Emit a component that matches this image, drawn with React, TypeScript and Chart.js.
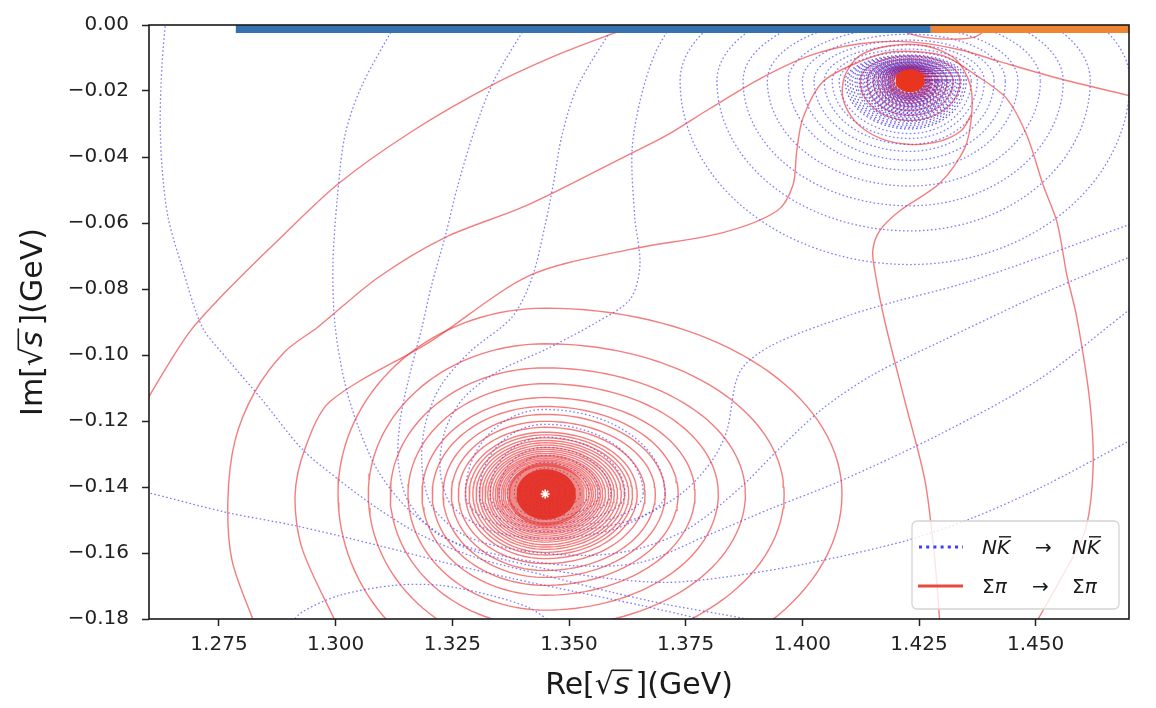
import React, { useEffect, useRef } from "react";
import { Chart, registerables } from "chart.js";

Chart.register(...registerables);

const FONT = "'DejaVu Sans', 'Liberation Sans', sans-serif";

// ---- axes ----
const xTicks = [1.275, 1.3, 1.325, 1.35, 1.375, 1.4, 1.425, 1.45];
const yTicks = [0, -0.02, -0.04, -0.06, -0.08, -0.1, -0.12, -0.14, -0.16, -0.18];
const xMin = 1.26;
const xMax = 1.47;
const yMin = -0.18;
const yMax = 0;

// ---- thresholds (bars along Im = 0) ----
const sigmaPiBar = [1.2786, 1.4275];
const nKbarBar = [1.4275, 1.48];
const barLevel = -0.0012;

// ---- poles ----
const sigmaPiPole = [1.3449, -0.1421];
const nKbarPole = [1.4231, -0.0169];

// ---- Sigma pi contour rings around the lower pole (GeV): left, right, top, bottom extents ----
const sigmaRingLeft = [0.0444, 0.0379, 0.0332, 0.0294, 0.0264, 0.0242, 0.0219, 0.0201, 0.0186, 0.0171, 0.0163, 0.0155, 0.0148, 0.0141, 0.0135, 0.0129, 0.0123, 0.0118, 0.0112, 0.0107, 0.0103, 0.0099, 0.0094, 0.009, 0.0086, 0.0081, 0.0077];
const sigmaRingRight = [0.0636, 0.0512, 0.0429, 0.0371, 0.0321, 0.0285, 0.0257, 0.0236, 0.0214, 0.0197, 0.0187, 0.0179, 0.017, 0.0163, 0.0155, 0.0148, 0.0142, 0.0136, 0.0129, 0.0123, 0.0118, 0.0113, 0.0108, 0.0103, 0.0099, 0.0094, 0.0089];
const sigmaRingTop = [0.0563, 0.0455, 0.0382, 0.0334, 0.0292, 0.0265, 0.0241, 0.022, 0.0202, 0.0187, 0.0179, 0.017, 0.0162, 0.0155, 0.0148, 0.0141, 0.0135, 0.0129, 0.0123, 0.0117, 0.0113, 0.0108, 0.0103, 0.0099, 0.0094, 0.0089, 0.0085];
const sigmaRingBottom = [0.0593, 0.0479, 0.0403, 0.0352, 0.0307, 0.0277, 0.0253, 0.0232, 0.0211, 0.0196, 0.0185, 0.0177, 0.0168, 0.0161, 0.0154, 0.0146, 0.014, 0.0134, 0.0128, 0.0122, 0.0117, 0.0112, 0.0107, 0.0102, 0.0098, 0.0093, 0.0088];
const sigmaCore = [0.0079, 0.0085, 0.0094, 0.0098];
const sigmaCoreInner = [0.0062, 0.0066, 0.0075, 0.0078];

// ---- Sigma pi rings around the upper pole ----
const sigmaUpperLeft = [0.0107, 0.0092, 0.0079, 0.0069, 0.006, 0.0054, 0.0047, 0.0043, 0.0039, 0.0035];
const sigmaUpperRight = [0.0107, 0.0092, 0.0079, 0.0069, 0.006, 0.0054, 0.0047, 0.0043, 0.0039, 0.0035];
const sigmaUpperTop = [0.0075, 0.0066, 0.0057, 0.0048, 0.0042, 0.0038, 0.0033, 0.003, 0.0027, 0.0026];
const sigmaUpperBottom = [0.012, 0.0105, 0.009, 0.0078, 0.0068, 0.006, 0.0054, 0.0048, 0.0044, 0.0039];
const nKbarCore = [0.0032, 0.0032, 0.0035, 0.0035];

// ---- N Kbar contour rings around the upper pole ----
const nkRingLeft = [0.0493, 0.0414, 0.0358, 0.0306, 0.0261, 0.0231, 0.0206, 0.0184, 0.0167, 0.0152, 0.0139, 0.0134, 0.0129, 0.0124, 0.0118, 0.0114, 0.0109, 0.0105, 0.0101, 0.0098, 0.0094, 0.0091, 0.0088, 0.0085, 0.0081, 0.0079, 0.0076, 0.0074, 0.0071, 0.0069, 0.0066, 0.0064, 0.0062, 0.006, 0.0058, 0.0056, 0.0054, 0.0052, 0.005, 0.0049, 0.0047, 0.0046, 0.0044, 0.0043, 0.0041, 0.0039, 0.0037, 0.0036, 0.0034];
const nkRingRight = [0.0471, 0.0386, 0.0328, 0.0279, 0.0231, 0.0204, 0.018, 0.0159, 0.0144, 0.0131, 0.012, 0.0115, 0.0109, 0.0105, 0.0101, 0.0097, 0.0093, 0.009, 0.0086, 0.0083, 0.008, 0.0078, 0.0075, 0.0073, 0.007, 0.0067, 0.0064, 0.0062, 0.006, 0.0059, 0.0057, 0.0056, 0.0054, 0.0052, 0.0049, 0.0048, 0.0046, 0.0045, 0.0043, 0.0042, 0.0041, 0.0039, 0.0037, 0.0036, 0.0034, 0.0033, 0.0032, 0.0031, 0.0029];
const nkRingTop = [0.0334, 0.0274, 0.0229, 0.0193, 0.0163, 0.0141, 0.0123, 0.0108, 0.0096, 0.0087, 0.0078, 0.0075, 0.0072, 0.0069, 0.0066, 0.0064, 0.0062, 0.006, 0.0057, 0.0056, 0.0054, 0.0053, 0.0051, 0.005, 0.0048, 0.0047, 0.0045, 0.0045, 0.0044, 0.0043, 0.0042, 0.0042, 0.0041, 0.004, 0.0039, 0.0039, 0.0038, 0.0037, 0.0036, 0.0036, 0.0035, 0.0034, 0.0033, 0.0033, 0.0032, 0.0031, 0.003, 0.003, 0.0029];
const nkRingBottom = [0.0557, 0.0455, 0.0379, 0.0319, 0.0271, 0.0241, 0.0214, 0.0193, 0.0175, 0.016, 0.0146, 0.0141, 0.0135, 0.0129, 0.0123, 0.0119, 0.0114, 0.011, 0.0105, 0.0102, 0.0099, 0.0096, 0.0092, 0.0089, 0.0086, 0.0083, 0.008, 0.0077, 0.0074, 0.0072, 0.0069, 0.0067, 0.0065, 0.0063, 0.006, 0.0058, 0.0056, 0.0055, 0.0053, 0.0052, 0.005, 0.0049, 0.0047, 0.0045, 0.0042, 0.0041, 0.0039, 0.0038, 0.0036];

// ---- N Kbar rings around the lower pole ----
const nkLowerLeft = [0.0171, 0.0141, 0.0118, 0.0099, 0.0081, 0.0066, 0.0054, 0.0041, 0.003, 0.0021];
const nkLowerRight = [0.0257, 0.021, 0.0171, 0.0141, 0.0116, 0.0094, 0.0075, 0.0058, 0.0043, 0.003];
const nkLowerTop = [0.0256, 0.0211, 0.0172, 0.0141, 0.0117, 0.0096, 0.0078, 0.006, 0.0045, 0.0033];
const nkLowerBottom = [0.0114, 0.0102, 0.009, 0.0078, 0.0069, 0.0057, 0.0048, 0.0039, 0.003, 0.0021];

// ---- open N Kbar contours [Re, Im] ----
const nkOpen0: number[][] = [[1.257, -0.141], [1.26, -0.1418], [1.2769, -0.1478], [1.2913, -0.1517], [1.3091, -0.1577], [1.3234, -0.1629], [1.3378, -0.1677], [1.3519, -0.1719], [1.3652, -0.1758], [1.3781, -0.18], [1.3824, -0.1818]];
const nkOpen1: number[][] = [[1.2636, 0.002], [1.2628, -0.0117], [1.2624, -0.0283], [1.2628, -0.0433], [1.2641, -0.0584], [1.2671, -0.0734], [1.2714, -0.0915], [1.2769, -0.1014], [1.2842, -0.1135], [1.2928, -0.1285], [1.3005, -0.1376], [1.3091, -0.1466], [1.3185, -0.1547], [1.3305, -0.1616], [1.3449, -0.1668], [1.3592, -0.1719], [1.3706, -0.1755], [1.3824, -0.1785], [1.3952, -0.1818]];
const nkOpen2: number[][] = [[1.3135, 0.002], [1.3056, -0.0184], [1.302, -0.0334], [1.3003, -0.0533], [1.2994, -0.0734], [1.2999, -0.0915], [1.302, -0.1087], [1.3048, -0.1216], [1.3091, -0.1352], [1.3159, -0.1472], [1.3266, -0.1577], [1.3416, -0.1638], [1.3566, -0.1674], [1.3706, -0.1689], [1.383, -0.1674], [1.401, -0.1632], [1.4224, -0.1562], [1.4366, -0.1493], [1.4509, -0.1403], [1.47, -0.1261], [1.475, -0.1225]];
const nkOpen3: number[][] = [[1.3418, 0.002], [1.3341, -0.0163], [1.3299, -0.0313], [1.3262, -0.0485], [1.3234, -0.0644], [1.3206, -0.0786], [1.3185, -0.0915], [1.3155, -0.1081], [1.3138, -0.1201], [1.3134, -0.1321], [1.3155, -0.1442], [1.3224, -0.1547], [1.3352, -0.1607], [1.3502, -0.1638], [1.3652, -0.1629], [1.3796, -0.1547], [1.3937, -0.1463], [1.4081, -0.1382], [1.4295, -0.124], [1.4509, -0.1072], [1.47, -0.0864], [1.475, -0.081]];
const nkOpen4: number[][] = [[1.3606, 0.002], [1.3519, -0.0184], [1.3485, -0.0334], [1.3466, -0.0485], [1.3449, -0.0605], [1.3421, -0.0765], [1.3378, -0.0885], [1.3288, -0.099], [1.3224, -0.1096], [1.3191, -0.1216], [1.3185, -0.1337], [1.3206, -0.1457], [1.3277, -0.1547], [1.3395, -0.1592], [1.3545, -0.1607], [1.3652, -0.1586], [1.3759, -0.1523], [1.3866, -0.1403], [1.3952, -0.1282], [1.4044, -0.1162], [1.4151, -0.106], [1.4295, -0.096], [1.4473, -0.084], [1.4595, -0.0765], [1.47, -0.0704], [1.475, -0.0675]];
const nkOpen5: number[][] = [[1.3728, 0.002], [1.3684, -0.0087], [1.3652, -0.0232], [1.3635, -0.0382], [1.3641, -0.0584], [1.3652, -0.0728], [1.3631, -0.0831], [1.356, -0.09], [1.3453, -0.0981], [1.3346, -0.1051], [1.3273, -0.1132], [1.3234, -0.1231], [1.3224, -0.1352], [1.3249, -0.1457], [1.3331, -0.1532], [1.3459, -0.1556], [1.3588, -0.1532], [1.3674, -0.1478], [1.3748, -0.1412], [1.3806, -0.1321], [1.3838, -0.1231], [1.3866, -0.1051], [1.3937, -0.0969], [1.4102, -0.0879], [1.4194, -0.084], [1.4338, -0.0786], [1.4509, -0.0704], [1.47, -0.0605], [1.475, -0.058]];
const nkOpen6: number[][] = [[1.2902, -0.1818], [1.2928, -0.1779], [1.3009, -0.1728], [1.3127, -0.1698], [1.3224, -0.1698], [1.3331, -0.1728], [1.3416, -0.1767], [1.347, -0.1818]];

// ---- open Sigma pi contours [Re, Im] ----
const spOpen1: number[][] = [[1.2581, -0.1171], [1.26, -0.1126], [1.2645, -0.102], [1.2692, -0.0921], [1.2774, -0.0795], [1.2876, -0.0653], [1.3005, -0.0482], [1.3164, -0.0322], [1.3341, -0.0178], [1.3481, -0.0087], [1.3592, -0.0027], [1.3663, 0.0009]];
const spOpen2: number[][] = [[1.2827, -0.1818], [1.2778, -0.1623], [1.2769, -0.1442], [1.2784, -0.1261], [1.2827, -0.1111], [1.2891, -0.099], [1.2962, -0.0915], [1.3091, -0.0765], [1.3234, -0.0644], [1.3412, -0.0545], [1.3626, -0.0394], [1.3706, -0.0337], [1.3802, -0.0253], [1.3909, -0.0163], [1.4016, -0.0093], [1.4123, -0.0057], [1.4231, -0.0051], [1.4338, -0.0075], [1.4423, -0.0111], [1.4552, -0.0163], [1.47, -0.0214], [1.4724, -0.0223]];
const spOpen3: number[][] = [[1.3003, -0.1818], [1.2928, -0.1586], [1.2913, -0.1427], [1.2934, -0.1285], [1.2988, -0.1141], [1.3202, -0.096], [1.3416, -0.0759], [1.3631, -0.068], [1.383, -0.0629], [1.3946, -0.0563], [1.398, -0.0485], [1.3988, -0.0382], [1.4001, -0.0283], [1.4044, -0.0172], [1.4123, -0.0111], [1.4194, -0.0081], [1.4301, -0.0093], [1.4374, -0.0154], [1.4438, -0.0223], [1.4481, -0.0334], [1.4516, -0.0485], [1.4546, -0.0599], [1.4567, -0.0759], [1.4588, -0.0885], [1.4616, -0.1141], [1.4623, -0.1343], [1.4606, -0.1532], [1.4552, -0.1683], [1.4498, -0.1818]];
const spOpen4: number[][] = [[1.4295, -0.1818], [1.4284, -0.1623], [1.4263, -0.1382], [1.422, -0.1141], [1.4177, -0.09], [1.4156, -0.075], [1.4151, -0.0683], [1.4166, -0.0623], [1.4209, -0.0563], [1.4295, -0.0479], [1.4348, -0.0373], [1.4363, -0.0268], [1.4359, -0.0178], [1.4327, -0.0102], [1.4263, -0.0063], [1.4188, -0.0063], [1.4123, -0.0093], [1.4091, -0.0154], [1.4087, -0.0223], [1.4113, -0.0292], [1.4166, -0.0343], [1.4231, -0.0362], [1.4295, -0.0352], [1.4342, -0.0318], [1.4363, -0.0268]];
const spOpen5: number[][] = [[1.4188, 0.001], [1.4231, -0.0027], [1.4295, -0.0042], [1.437, -0.0036], [1.4413, 0.001]];

const nkOpenCurves = [nkOpen0, nkOpen1, nkOpen2, nkOpen3, nkOpen4, nkOpen5, nkOpen6];
const spOpenCurves = [spOpen1, spOpen2, spOpen3, spOpen4, spOpen5];

// ---- styles ----
const BLUE_LINE = "rgba(45,45,255,0.62)";
const BLUE_INNER = "rgba(40,30,225,0.7)";
const RED_LINE = "rgba(235,45,45,0.62)";
const BLUE_DASH = [1.6, 2.4];

function ring(c: number[], l: number, r: number, t: number, b: number, n = 140) {
  const pts: { x: number; y: number }[] = [];
  for (let i = 0; i <= n; i++) {
    const a = (i / n) * Math.PI * 2;
    const co = Math.cos(a);
    const si = Math.sin(a);
    pts.push({ x: c[0] + co * (co >= 0 ? r : l), y: c[1] + si * (si >= 0 ? t : b) });
  }
  return pts;
}

function toPts(arr: number[][]) {
  return arr.map((p) => ({ x: p[0], y: p[1] }));
}

function buildDatasets() {
  const ds: any[] = [];
  const blueBase = {
    showLine: true, pointRadius: 0, borderColor: BLUE_LINE, borderWidth: 1.3,
    borderDash: BLUE_DASH, fill: false, order: 5,
  };
  const redBase = {
    showLine: true, pointRadius: 0, borderColor: RED_LINE, borderWidth: 1.4,
    fill: false, order: 4,
  };
  nkOpenCurves.forEach((c) => ds.push({ ...blueBase, data: toPts(c), tension: 0.3 }));
  nkRingLeft.forEach((_, i) =>
    ds.push({
      ...blueBase, tension: 0, borderColor: i >= 10 ? BLUE_INNER : BLUE_LINE,
      data: ring(nKbarPole, nkRingLeft[i], nkRingRight[i], nkRingTop[i], nkRingBottom[i]),
    })
  );
  nkLowerLeft.forEach((_, i) =>
    ds.push({ ...blueBase, tension: 0, data: ring(sigmaPiPole, nkLowerLeft[i], nkLowerRight[i], nkLowerTop[i], nkLowerBottom[i]) })
  );
  spOpenCurves.forEach((c) => ds.push({ ...redBase, data: toPts(c), tension: 0.3 }));
  sigmaRingLeft.forEach((_, i) =>
    ds.push({ ...redBase, tension: 0, data: ring(sigmaPiPole, sigmaRingLeft[i], sigmaRingRight[i], sigmaRingTop[i], sigmaRingBottom[i]) })
  );
  sigmaUpperLeft.forEach((_, i) =>
    ds.push({ ...redBase, order: 3, borderColor: "rgba(200,40,90,0.6)", tension: 0, data: ring(nKbarPole, sigmaUpperLeft[i], sigmaUpperRight[i], sigmaUpperTop[i], sigmaUpperBottom[i]) })
  );
  ds.push({
    showLine: true, pointRadius: 0, borderWidth: 0, borderColor: "rgba(0,0,0,0)",
    backgroundColor: "rgba(226,50,40,0.55)", fill: "shape", tension: 0, order: 2,
    data: ring(sigmaPiPole, sigmaCore[0], sigmaCore[1], sigmaCore[2], sigmaCore[3]),
  });
  ds.push({
    showLine: true, pointRadius: 0, borderWidth: 0, borderColor: "rgba(0,0,0,0)",
    backgroundColor: "rgba(228,40,28,0.9)", fill: "shape", tension: 0, order: 2,
    data: ring(sigmaPiPole, sigmaCoreInner[0], sigmaCoreInner[1], sigmaCoreInner[2], sigmaCoreInner[3]),
  });
  ds.push({
    showLine: true, pointRadius: 0, borderWidth: 0, borderColor: "rgba(0,0,0,0)",
    backgroundColor: "#e9341f", fill: "shape", tension: 0, order: 1,
    data: ring(nKbarPole, nKbarCore[0], nKbarCore[1], nKbarCore[2], nKbarCore[3]),
  });
  ds.push({
    showLine: false, pointRadius: 4.5, pointStyle: "star", pointBorderColor: "#ffffff",
    pointBorderWidth: 1.6, pointBackgroundColor: "#ffffff", order: 0,
    data: [{ x: sigmaPiPole[0], y: sigmaPiPole[1] }],
  });
  ds.push({
    showLine: true, pointRadius: 0, borderColor: "#3473b0", borderWidth: 8, borderCapStyle: "butt",
    order: 0, data: [{ x: sigmaPiBar[0], y: barLevel }, { x: sigmaPiBar[1], y: barLevel }],
  });
  ds.push({
    showLine: true, pointRadius: 0, borderColor: "#ee8532", borderWidth: 8, borderCapStyle: "butt",
    order: 0, data: [{ x: nKbarBar[0], y: barLevel }, { x: nKbarBar[1], y: barLevel }],
  });
  return ds;
}

function drawSqrtTitle(ctx: CanvasRenderingContext2D, pre: string, post: string, cx: number, baseline: number) {
  const size = 30;
  const normal = `${size}px ${FONT}`;
  const italic = `italic ${size}px ${FONT}`;
  ctx.font = normal;
  const wPre = ctx.measureText(pre).width;
  const wRad = ctx.measureText("\u221A").width;
  const wPost = ctx.measureText(post).width;
  ctx.font = italic;
  const wS = ctx.measureText("s").width;
  const gap = 3;
  const total = wPre + wRad + wS + gap * 2 + wPost;
  let x = cx - total / 2;
  ctx.fillStyle = "#1a1a1a";
  ctx.strokeStyle = "#1a1a1a";
  ctx.textAlign = "left";
  ctx.textBaseline = "alphabetic";
  ctx.font = normal;
  ctx.fillText(pre, x, baseline);
  x += wPre;
  ctx.fillText("\u221A", x, baseline);
  const radEnd = x + wRad;
  x += wRad;
  ctx.font = italic;
  ctx.fillText("s", x, baseline);
  x += wS + gap;
  ctx.beginPath();
  ctx.lineWidth = 1.6;
  ctx.moveTo(radEnd - 1.5, baseline - size * 0.79);
  ctx.lineTo(x, baseline - size * 0.79);
  ctx.stroke();
  ctx.font = normal;
  ctx.fillText(post, x + gap, baseline);
}

function drawNK(ctx: CanvasRenderingContext2D, x: number, baseline: number, fs: number) {
  ctx.font = `italic ${fs}px ${FONT}`;
  ctx.fillText("N", x, baseline);
  const wN = ctx.measureText("N").width;
  ctx.fillText("K", x + wN, baseline);
  const wK = ctx.measureText("K").width;
  ctx.beginPath();
  ctx.lineWidth = 1.4;
  ctx.moveTo(x + wN + 2, baseline - fs * 0.86);
  ctx.lineTo(x + wN + wK + 1, baseline - fs * 0.86);
  ctx.stroke();
}

function drawSigmaPi(ctx: CanvasRenderingContext2D, x: number, baseline: number, fs: number) {
  ctx.font = `${fs}px ${FONT}`;
  ctx.fillText("\u03A3", x, baseline);
  const w = ctx.measureText("\u03A3").width;
  ctx.font = `italic ${fs}px ${FONT}`;
  ctx.fillText("\u03C0", x + w, baseline);
}

const overlayPlugin = {
  id: "overlay",
  afterDatasetsDraw(chart: any) {
    const { ctx, chartArea: a } = chart;
    ctx.save();
    ctx.strokeStyle = "#1a1a1a";
    ctx.lineWidth = 1.6;
    ctx.strokeRect(a.left, a.top, a.right - a.left, a.bottom - a.top);
    ctx.restore();
  },
  afterDraw(chart: any) {
    const { ctx, chartArea: a } = chart;
    ctx.save();
    drawSqrtTitle(ctx, "Re[", "](GeV)", (a.left + a.right) / 2, a.bottom + 75);
    ctx.restore();
    ctx.save();
    ctx.translate(a.left - 107, (a.top + a.bottom) / 2);
    ctx.rotate(-Math.PI / 2);
    drawSqrtTitle(ctx, "Im[", "](GeV)", 0, 0);
    ctx.restore();

    // legend
    const fs = 20;
    const right = a.right - 10;
    const bottom = a.bottom - 10;
    const w = 207;
    const h = 88;
    const left = right - w;
    const top = bottom - h;
    ctx.save();
    ctx.beginPath();
    const rr = 5;
    ctx.moveTo(left + rr, top);
    ctx.arcTo(right, top, right, bottom, rr);
    ctx.arcTo(right, bottom, left, bottom, rr);
    ctx.arcTo(left, bottom, left, top, rr);
    ctx.arcTo(left, top, right, top, rr);
    ctx.closePath();
    ctx.fillStyle = "rgba(255,255,255,0.8)";
    ctx.fill();
    ctx.strokeStyle = "#d4d4d4";
    ctx.lineWidth = 1.3;
    ctx.stroke();

    const y1 = top + 26;
    const y2 = top + 65;
    ctx.beginPath();
    ctx.setLineDash([3, 4.2]);
    ctx.strokeStyle = "rgba(40,40,255,0.9)";
    ctx.lineWidth = 3;
    ctx.moveTo(left + 7, y1);
    ctx.lineTo(left + 51, y1);
    ctx.stroke();
    ctx.setLineDash([]);
    ctx.beginPath();
    ctx.strokeStyle = "rgba(232,52,42,0.9)";
    ctx.lineWidth = 3;
    ctx.moveTo(left + 6, y2);
    ctx.lineTo(left + 51, y2);
    ctx.stroke();

    ctx.fillStyle = "#1a1a1a";
    ctx.strokeStyle = "#1a1a1a";
    ctx.textAlign = "left";
    ctx.textBaseline = "alphabetic";
    const b1 = y1 + 7;
    const b2 = y2 + 7;
    drawNK(ctx, left + 70, b1, fs);
    ctx.font = `${fs}px ${FONT}`;
    ctx.fillText("\u2192", left + 123, b1);
    drawNK(ctx, left + 160, b1, fs);
    drawSigmaPi(ctx, left + 70, b2, fs);
    ctx.font = `${fs}px ${FONT}`;
    ctx.fillText("\u2192", left + 120, b2);
    drawSigmaPi(ctx, left + 160, b2, fs);
    ctx.restore();
  },
};

function fmtY(v: number) {
  if (Math.abs(v) < 1e-9) return "0.00";
  return v.toFixed(2).replace("-", "\u2212");
}

export default function App() {
  const ref = useRef<HTMLCanvasElement | null>(null);
  useEffect(() => {
    if (!ref.current) return;
    const chart = new Chart(ref.current, {
      type: "scatter",
      data: { datasets: buildDatasets() },
      options: {
        animation: false,
        responsive: true,
        maintainAspectRatio: false,
        devicePixelRatio: 1,
        layout: { padding: { left: 0, right: 27, top: 21, bottom: 0 } },
        elements: { line: { capBezierPoints: false } },
        plugins: { legend: { display: false }, tooltip: { enabled: false } },
        events: [],
        scales: {
          x: {
            type: "linear",
            min: xMin,
            max: xMax,
            afterBuildTicks: (s: any) => {
              s.ticks = xTicks.map((v) => ({ value: v }));
            },
            afterFit: (s: any) => {
              s.height = 89;
            },
            ticks: {
              callback: (v: any) => Number(v).toFixed(3),
              font: { family: FONT, size: 20 },
              color: "#222",
              padding: 7,
              maxRotation: 0,
              autoSkip: false,
            },
            grid: { drawOnChartArea: false, drawTicks: true, tickLength: 7, tickColor: "#222", tickWidth: 1.5 },
            border: { display: false },
          },
          y: {
            type: "linear",
            min: yMin,
            max: yMax,
            afterBuildTicks: (s: any) => {
              s.ticks = yTicks.map((v) => ({ value: v }));
            },
            afterFit: (s: any) => {
              s.width = 149;
            },
            ticks: {
              callback: (v: any) => fmtY(Number(v)),
              font: { family: FONT, size: 20 },
              color: "#222",
              padding: 13,
              autoSkip: false,
            },
            grid: { drawOnChartArea: false, drawTicks: true, tickLength: 7, tickColor: "#222", tickWidth: 1.5 },
            border: { display: false },
          },
        },
      } as any,
      plugins: [overlayPlugin],
    });
    return () => chart.destroy();
  }, []);
  return (
    <div style={{ position: "fixed", left: 0, top: 0, width: 1156, height: 708, background: "#fff" }}>
      <canvas ref={ref} />
    </div>
  );
}
